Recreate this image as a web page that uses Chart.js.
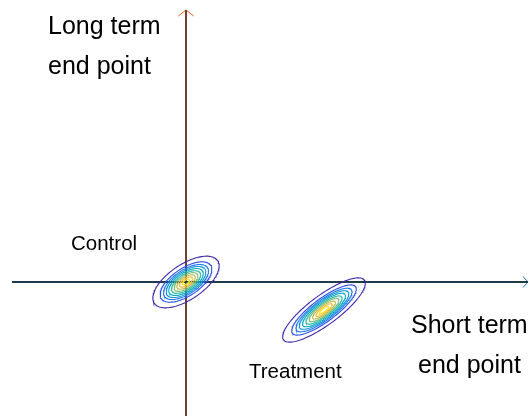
<!DOCTYPE html>
<html>
  <head>
    <meta charset="utf-8">
    <title>Control vs treatment</title>
    <script src="https://cdn.jsdelivr.net/npm/chart.js@4.4.1/dist/chart.umd.min.js"></script>
    <style>
      body { margin: 0; background: #fff; }
      #wrap { width: 529px; height: 416px; }
    </style>
  </head>
  <body>
    <div id="wrap"><canvas id="chart" width="529" height="416"></canvas></div>

    <script type="text/javascript">
      // groups: centre (short term, long term), spread along / across the main axis, tilt in degrees
      var groups = ["Control", "Treatment"];
      var centreShort = [0, 138];
      var centreLong = [0, -28];
      var sigmaMajor = [17.4, 22.9];
      var sigmaMinor = [8.0, 6.7];
      var tiltDeg = [34, 36.5];

      // contour levels (fraction of the peak density)
      var levels = [0.09, 0.23, 0.33, 0.42, 0.52, 0.63, 0.73, 0.83, 0.91, 0.97];
      var levelColors = ["#3e26a8", "#2c50e6", "#1e78f0", "#1496d6", "#08acc4", "#31b99d",
                         "#7cbf7b", "#c3bc5b", "#f5c13a", "#f8e520"];

      // axes extents
      var shortAxis = [-174, 342];
      var longAxis = [-134, 272];

      var X_MIN = -186, X_MAX = 343, Y_MIN = -134, Y_MAX = 282;

      function ellipse(cx, cy, a, b, deg) {
        var t = deg * Math.PI / 180, pts = [];
        for (var i = 0; i <= 144; ++i) {
          var u = 2 * Math.PI * i / 144;
          var ex = a * Math.cos(u), ey = b * Math.sin(u);
          pts.push({x: cx + ex * Math.cos(t) - ey * Math.sin(t), y: cy + ex * Math.sin(t) + ey * Math.cos(t)});
        }
        return pts;
      }

      var datasets = [];
      for (var g = 0; g != groups.length; ++g) {
        for (var k = 0; k != levels.length; ++k) {
          var r = Math.sqrt(-2 * Math.log(levels[k]));
          datasets.push({
            data: ellipse(centreShort[g], centreLong[g], sigmaMajor[g] * r, sigmaMinor[g] * r, tiltDeg[g]),
            borderColor: levelColors[k], borderWidth: 1.1, showLine: true, pointRadius: 0, tension: 0
          });
        }
      }

      // axes with arrow heads
      datasets.push({data: [{x: shortAxis[0], y: 0}, {x: shortAxis[1], y: 0}],
                     borderColor: "#1e3a4c", borderWidth: 2, showLine: true, pointRadius: 0});
      datasets.push({data: [{x: shortAxis[1] - 5, y: 5.5}, {x: shortAxis[1], y: 0}, {x: shortAxis[1] - 5, y: -5.5}],
                     borderColor: "#1f77c9", borderWidth: 1, showLine: true, pointRadius: 0});
      datasets.push({data: [{x: 0, y: longAxis[0]}, {x: 0, y: longAxis[1]}],
                     borderColor: "#6e4030", borderWidth: 2, showLine: true, pointRadius: 0});
      datasets.push({data: [{x: -7.7, y: longAxis[1] - 6}, {x: 0, y: longAxis[1]}, {x: 7.7, y: longAxis[1] - 6}],
                     borderColor: "#e0662a", borderWidth: 1, showLine: true, pointRadius: 0});

      var texts = [
        {t: "Long term", x: -138, y: 248, size: 25},
        {t: "end point", x: -138, y: 208, size: 25},
        {t: "Short term", x: 225, y: -51, size: 25},
        {t: "end point", x: 232, y: -91, size: 25},
        {t: "Control", x: -115, y: 32, size: 20.5},
        {t: "Treatment", x: 63, y: -96, size: 20.5}
      ];

      var textPlugin = {
        id: "texts",
        afterDraw: function(chart) {
          var ctx = chart.ctx, sx = chart.scales.x, sy = chart.scales.y;
          ctx.save();
          ctx.fillStyle = "#000";
          ctx.textAlign = "left";
          ctx.textBaseline = "alphabetic";
          texts.forEach(function(o) {
            ctx.font = o.size + "px 'Liberation Sans', Arial, sans-serif";
            ctx.fillText(o.t, sx.getPixelForValue(o.x), sy.getPixelForValue(o.y));
          });
          ctx.restore();
        }
      };

      new Chart(document.getElementById("chart"), {
        type: "scatter",
        data: {datasets: datasets},
        options: {
          responsive: false,
          animation: false,
          layout: {padding: 0},
          plugins: {legend: {display: false}, tooltip: {enabled: false}},
          scales: {
            x: {type: "linear", min: X_MIN, max: X_MAX, display: false},
            y: {type: "linear", min: Y_MIN, max: Y_MAX, display: false}
          }
        },
        plugins: [textPlugin]
      });
    </script>
  </body>
</html>
